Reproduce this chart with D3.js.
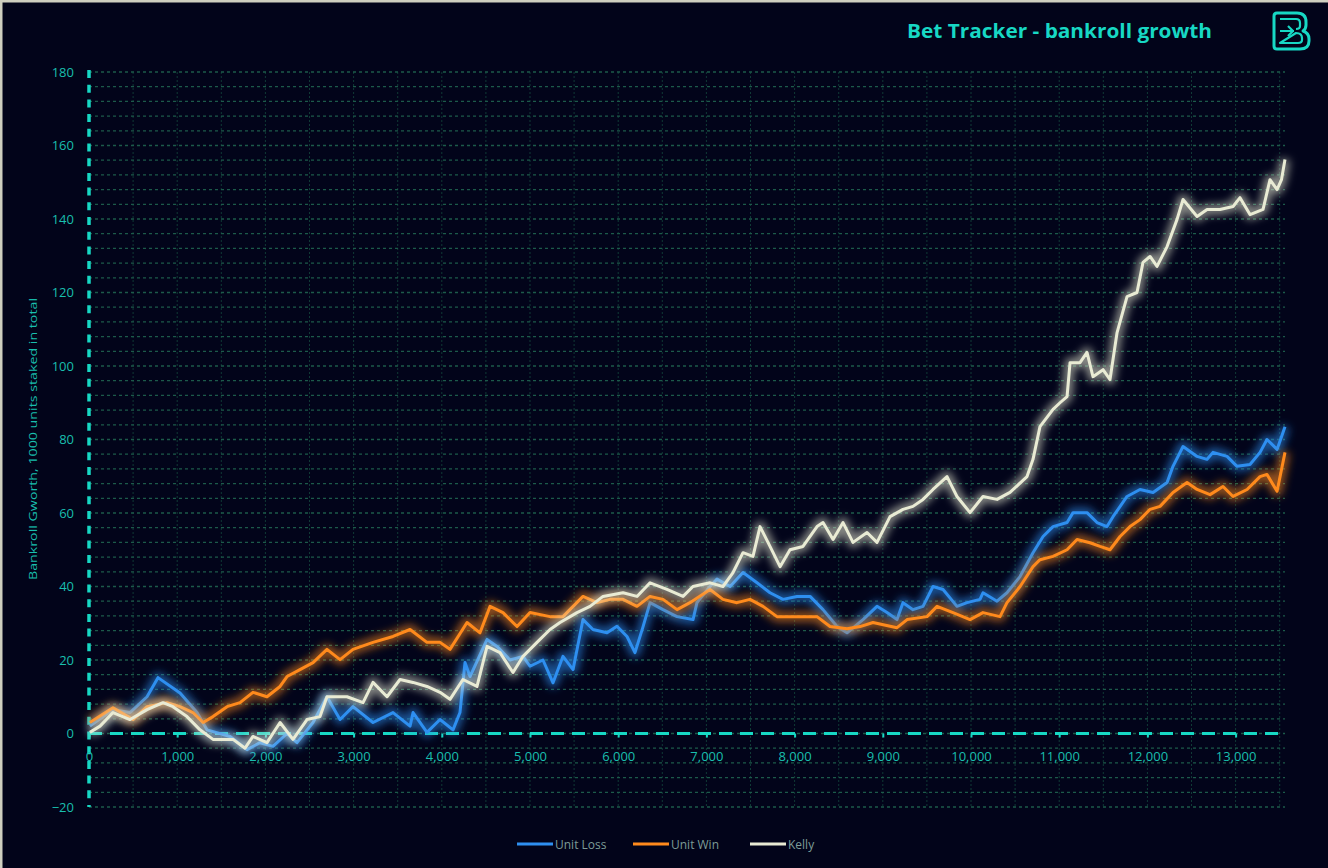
<!DOCTYPE html>
<html><head><meta charset="utf-8">
<script src="https://cdn.jsdelivr.net/npm/d3@7"></script>
<style>
html,body{margin:0;padding:0;background:#02041a;}
svg{display:block;}
</style></head><body>
<svg id="c" width="1328" height="868"></svg>
<script>
const title = "Bet Tracker - bankroll growth";
const yAxisTitle = "Bankroll Gworth, 1000 units staked in total";
const seriesNames = ["Unit Loss", "Unit Win", "Kelly"];
const yTicks = [-20,0,20,40,60,80,100,120,140,160,180];
const xTicks = [0,1000,2000,3000,4000,5000,6000,7000,8000,9000,10000,11000,12000,13000];

const lossX = [10,272,465,658,782,1032,1225,1338,1599,1791,1939,2086,2245,2358,2540,2698,2846,2993,3220,3447,3640,3674,3832,3980,4127,4206,4263,4320,4513,4626,4773,4921,5000,5147,5261,5374,5488,5601,5714,5873,5986,6100,6190,6281,6361,6508,6667,6848,6893,7041,7120,7268,7415,7574,7721,7868,8027,8175,8322,8481,8594,8776,8934,9048,9161,9229,9342,9456,9569,9683,9841,9955,10102,10136,10295,10408,10556,10703,10817,10930,11089,11157,11315,11429,11542,11610,11769,11916,12064,12223,12290,12404,12563,12676,12744,12903,13016,13163,13277,13356,13470,13560];
const lossY = [2,6.5,5.7,10,15.2,11,5.7,1,-0.8,-4.4,-2.5,-3.5,0,-2.5,3,10,3.8,7.3,3,5.7,2,5.7,0.3,3.8,1,5.7,19.3,15.5,25.6,23.7,20,21,18.3,20,13.8,21,17.4,31,28.3,27.4,29.2,26.4,22,29,35.6,33.7,31.8,31,35.6,40,42,40,43.8,41,38.3,36.5,37.3,37.3,33.7,29.1,27.4,31,34.6,32.9,31,35.6,33.7,34.6,40,39.2,34.6,35.6,36.5,38.3,36,38.3,42.7,49.2,53.6,56.3,57.4,60.1,60.1,57.4,56.3,59,64.5,66.4,65.6,68.3,72.7,78.1,75.4,74.6,76.5,75.4,72.7,73.2,76.5,80,77.3,83.5];

const winX = [10,272,499,658,884,1032,1179,1293,1406,1565,1712,1859,2018,2166,2245,2392,2540,2698,2846,2993,3220,3447,3640,3832,3980,4093,4286,4433,4547,4694,4853,5000,5227,5374,5601,5760,5907,6055,6213,6361,6508,6667,6814,7041,7188,7347,7494,7642,7800,7948,8095,8254,8402,8594,8742,8889,9161,9275,9501,9615,9796,9989,10136,10329,10408,10556,10703,10782,10930,11089,11202,11349,11463,11576,11690,11803,11916,12030,12143,12290,12449,12563,12710,12857,12971,13130,13277,13356,13470,13560];
const winY = [3,7,3.8,7.3,8.4,7.3,5.7,3,4.6,7.3,8.4,11.2,10,12.8,15.5,17.4,19.3,22.9,20.1,22.9,24.8,26.4,28.3,24.8,24.8,22.9,30.2,27.4,34.6,32.9,29.1,32.9,31.8,31.8,37.3,35.6,36.5,36.5,34.6,37.3,36.5,33.7,35.6,39.2,36.5,35.6,36.5,34.6,31.8,31.8,31.8,31.8,29.1,28.5,29.1,30.2,28.8,31,31.8,34.6,32.9,31,32.9,31.8,35.6,40,45.4,47.3,48.2,50,52.8,51.9,50.9,50,53.6,56.3,58.2,61,61.8,65.6,68.3,66.4,65,67.2,64.5,66.4,69.9,70.5,65.9,76.5];

const kellyX = [10,125,272,465,658,839,952,1111,1259,1406,1633,1769,1859,2018,2166,2313,2472,2619,2698,2925,3107,3220,3379,3526,3674,3832,3980,4093,4240,4399,4513,4660,4807,4921,5079,5227,5340,5533,5680,5828,6055,6213,6361,6553,6735,6848,7041,7188,7302,7415,7528,7608,7721,7835,7948,8095,8254,8322,8436,8549,8662,8821,8934,9082,9229,9342,9456,9569,9728,9841,9989,10136,10295,10442,10635,10703,10782,10930,11009,11089,11123,11236,11315,11383,11497,11576,11656,11769,11882,11950,12030,12109,12223,12336,12404,12563,12676,12823,12971,13050,13163,13311,13390,13470,13520,13560];
const kellyY = [0.3,2,5.7,3.8,6.5,8.4,7.3,4.6,1,-1.6,-1.6,-4,-0.8,-2.5,3,-1.6,3.8,4.6,10,10,8.4,13.9,10,14.7,13.9,12.8,11.2,9.3,14.7,12.8,23.7,22,16.6,21,24.8,28.3,30.2,32.9,34.6,37.3,38.3,37.3,41,39.2,37.3,40,41,40,43.8,49.2,48.2,56.3,50.9,45.4,50,50.9,56.3,57.4,52.8,57.4,52,54.7,52,59,61,61.8,63.7,66.4,69.9,64.5,60.1,64.5,63.7,65.6,69.9,74.6,83.5,88.2,90,91.7,100.9,100.9,103.7,97.1,99,96.3,109.1,118.9,120,128.2,129.8,127.1,132.5,139.9,145.3,140.7,142.6,142.6,143.4,145.8,141.2,142.6,150.7,148,150.7,156.2];

const seriesColors = ["#2e8ff0", "#ff8a1c", "#e9ebd4"];
const series = [
  {name: seriesNames[0], xs: lossX, ys: lossY, color: seriesColors[0]},
  {name: seriesNames[1], xs: winX, ys: winY, color: seriesColors[1]},
  {name: seriesNames[2], xs: kellyX, ys: kellyY, color: seriesColors[2]}
];

const teal = "#17d8c4";
const svg = d3.select("#c");
svg.append("rect").attr("width",1328).attr("height",868).attr("fill","#02041a");
svg.append("rect").attr("x",0).attr("y",0).attr("width",2.5).attr("height",868).attr("fill","#cfcfc0");
svg.append("rect").attr("x",0).attr("y",0).attr("width",1328).attr("height",2.5).attr("fill","#cfcfc0");

const x = d3.scaleLinear().domain([0, 13560]).range([89, 1285]);
const y = d3.scaleLinear().domain([-20, 180]).range([807, 72]);

const defs = svg.append("defs");
const f = defs.append("filter").attr("id","blur").attr("filterUnits","userSpaceOnUse")
  .attr("x",0).attr("y",0).attr("width",1328).attr("height",868);
f.append("feGaussianBlur").attr("stdDeviation",4);

// vertical grid
const vg = svg.append("g");
d3.range(500, 13560, 500).forEach(v => {
  vg.append("line").attr("x1",x(v)).attr("x2",x(v)).attr("y1",y(180)).attr("y2",y(-20))
    .attr("stroke","#103a36").attr("stroke-width",1).attr("stroke-dasharray","2,2");
});
// horizontal grid
const hg = svg.append("g");
d3.range(-20, 181, 4).forEach(v => {
  hg.append("line").attr("x1",x(0)).attr("x2",x(13560)).attr("y1",y(v)).attr("y2",y(v))
    .attr("stroke","#1c5a4a").attr("stroke-width",1.3).attr("stroke-dasharray","3,3");
});

svg.append("line").attr("x1",x(0)).attr("x2",x(0)).attr("y1",y(180)-2).attr("y2",y(-20))
  .attr("stroke",teal).attr("stroke-width",3.5).attr("stroke-dasharray","8,6.7");
svg.append("line").attr("x1",x(0)).attr("x2",x(13560)).attr("y1",y(0)).attr("y2",y(0))
  .attr("stroke",teal).attr("stroke-width",3.2).attr("stroke-dasharray","13,8");

const yAxis = d3.axisLeft(y).tickValues(yTicks).tickSize(0).tickPadding(15);
const yg = svg.append("g").attr("transform",`translate(${x(0)},0)`).call(yAxis);
yg.select(".domain").remove();
yg.selectAll("text").attr("fill","#19bfae").attr("font-family","Open Sans, sans-serif").attr("font-size",13);

const xAxis = d3.axisBottom(x).tickValues(xTicks).tickSize(4).tickPadding(14).tickFormat(d3.format(","));
const xg = svg.append("g").attr("transform",`translate(0,${y(0)})`).call(xAxis);
xg.select(".domain").remove();
xg.selectAll("line").attr("stroke",teal).attr("stroke-width",2);
xg.selectAll("text").attr("fill","#19bfae").attr("font-family","Open Sans, sans-serif").attr("font-size",13);

const line = d3.line().x(d => x(d[0])).y(d => y(d[1]));
series.forEach(s => {
  const pts = s.xs.map((v,i) => [v, s.ys[i]]);
  svg.append("path").datum(pts).attr("d",line).attr("fill","none")
    .attr("stroke",s.color).attr("stroke-width",10).attr("stroke-opacity",0.6)
    .attr("stroke-linejoin","round").attr("filter","url(#blur)");
  svg.append("path").datum(pts).attr("d",line).attr("fill","none")
    .attr("stroke",s.color).attr("stroke-width",3).attr("stroke-linejoin","round");
});

svg.append("text").attr("x",907).attr("y",38).text(title)
  .attr("fill",teal).attr("font-family","Open Sans, sans-serif").attr("font-weight","bold")
  .attr("font-size",19).attr("textLength",305).attr("lengthAdjust","spacingAndGlyphs");

const lg = svg.append("g").attr("fill","none").attr("stroke",teal).attr("stroke-width",3).attr("stroke-linejoin","round");
lg.append("path").attr("d","M1277,13 H1297 Q1306,13 1306,22 V25 Q1306,29 1303,31 Q1309,33 1309,39 V41 Q1309,49 1300,49 H1277 Q1274,49 1274,46 V16 Q1274,13 1277,13 Z");
lg.append("path").attr("d","M1280,19 H1296 Q1300,19 1300,23 V26 Q1300,29 1296,29 M1296,33 Q1302,33 1302,38 V40 Q1302,43 1298,43 H1280 Z").attr("stroke-width",2.2);
lg.append("path").attr("d","M1280,31 H1294 M1288,26 L1293,31 L1288,36").attr("stroke-width",2.2);

svg.append("text").attr("transform","translate(37,439) rotate(-90)").attr("text-anchor","middle")
  .text(yAxisTitle).attr("fill","#19bfae").attr("font-family","Open Sans, sans-serif")
  .attr("font-size",11).attr("textLength",282).attr("lengthAdjust","spacingAndGlyphs");

const legX = [517, 633, 750];
series.forEach((s,i) => {
  svg.append("line").attr("x1",legX[i]).attr("x2",legX[i]+36).attr("y1",844).attr("y2",844)
    .attr("stroke",s.color).attr("stroke-width",3);
  svg.append("text").attr("x",legX[i]+38).attr("y",848.5).text(s.name)
    .attr("fill","#7d9c97").attr("font-family","Open Sans, sans-serif").attr("font-size",12);
});
</script>
</body></html>
